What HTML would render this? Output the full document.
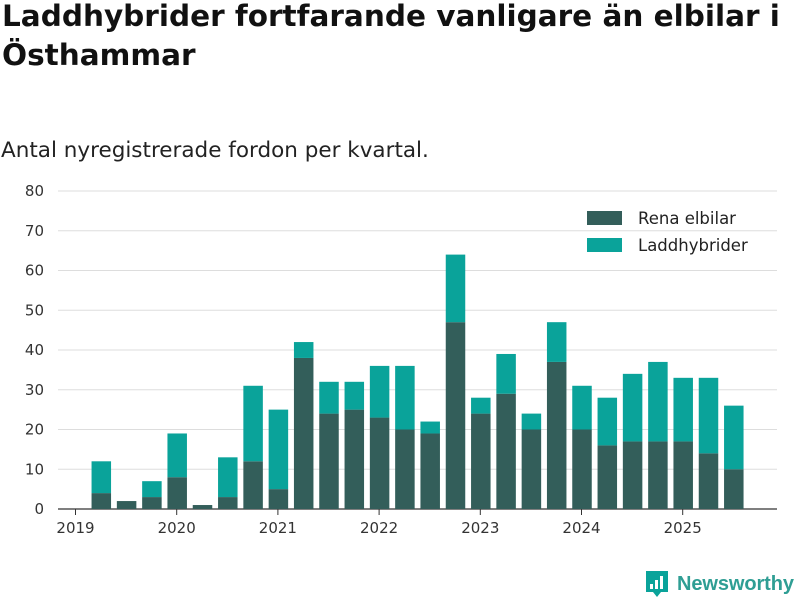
<!DOCTYPE html>
<html><head><meta charset="utf-8"><style>
body{margin:0;width:800px;height:600px;background:#fff;font-family:"Liberation Sans","DejaVu Sans",sans-serif;overflow:hidden;position:relative}
h1{position:absolute;left:2px;top:-3px;margin:0;font-family:"DejaVu Sans",sans-serif;font-size:29.5px;line-height:39px;font-weight:bold;color:#111;letter-spacing:0px}
.sub{position:absolute;left:1px;top:138px;font-family:"DejaVu Sans",sans-serif;font-size:21.5px;color:#222}
</style></head><body>
<h1>Laddhybrider fortfarande vanligare än elbilar i<br>Östhammar</h1>
<div class="sub">Antal nyregistrerade fordon per kvartal.</div>
<svg id="chart" width="800" height="600" style="position:absolute;left:0;top:0"></svg>
<script>
const quarters=["2019Q1","2019Q2","2019Q3","2019Q4","2020Q1","2020Q2","2020Q3","2020Q4","2021Q1","2021Q2","2021Q3","2021Q4","2022Q1","2022Q2","2022Q3","2022Q4","2023Q1","2023Q2","2023Q3","2023Q4","2024Q1","2024Q2","2024Q3","2024Q4","2025Q1","2025Q2","2025Q3"];
const elbil=[0,4,2,3,8,1,3,12,5,38,24,25,23,20,19,47,24,29,20,37,20,16,17,17,17,14,10];
const laddhybrid=[0,8,0,4,11,0,10,19,20,4,8,7,13,16,3,17,4,10,4,10,11,12,17,20,16,19,16];
const yTicks=[0,10,20,30,40,50,60,70,80];
const yearLabels=["2019","2020","2021","2022","2023","2024","2025"];
const NS="http://www.w3.org/2000/svg";
const svg=document.getElementById('chart');
const y=v=>509-v*(318/80);
const x=i=>76+i*25.3;
function mk(t,a){const e=document.createElementNS(NS,t);for(const k in a)e.setAttribute(k,a[k]);svg.appendChild(e);return e;}
yTicks.forEach(v=>{
 const l=mk('line',{x1:58,x2:777,y1:y(v),y2:y(v),stroke:v===0?'#333':'#ddd','stroke-width':v===0?1.2:1});
 
 
 const t=mk('text',{x:44,y:y(v)+5,'text-anchor':'end','font-size':15,fill:'#333','font-family':'DejaVu Sans, sans-serif'});
 t.textContent=v;
 
 
});
yearLabels.forEach((yr,j)=>{
 const xi=x(j*4)-0.5;
 const l=mk('line',{x1:xi,x2:xi,y1:509,y2:515,stroke:'#333'});
 
 
 const t=mk('text',{x:xi,y:533,'text-anchor':'middle','font-size':15,fill:'#333','font-family':'DejaVu Sans, sans-serif'});
 t.textContent=yr;
 
 
});
quarters.forEach((q,i)=>{
 const bw=19.5;
 if(elbil[i]>0){const r=mk('rect',{x:x(i)-bw/2,y:y(elbil[i]),width:bw,height:y(0)-y(elbil[i]),fill:'#335e5a'});
 
 }
 if(laddhybrid[i]>0){const tot=elbil[i]+laddhybrid[i];const r=mk('rect',{x:x(i)-bw/2,y:y(tot),width:bw,height:y(elbil[i])-y(tot),fill:'#0aa39a'});
 
 }
});
[["Rena elbilar","#335e5a",211],["Laddhybrider","#0aa39a",238]].forEach(([n,c,yy])=>{
 const r=mk('rect',{x:587,y:yy,width:35,height:14,fill:c});
 
 
 const t=mk('text',{x:638,y:yy+13,'font-size':16.5,fill:'#222','font-family':'DejaVu Sans, sans-serif'});
 t.textContent=n;
 
 
});
const g=mk('g',{});


g.innerHTML='<path d="M646 571h22v21h-7l-4 5-4-5h-7z" fill="#0aa39a"/><rect x="650" y="584" width="3" height="5" fill="#fff"/><rect x="655" y="580" width="3" height="9" fill="#fff"/><rect x="660" y="576" width="3" height="13" fill="#fff"/><text x="677" y="590" font-size="20" font-weight="bold" fill="#2f9e94" font-family="Liberation Sans, sans-serif" textLength="117">Newsworthy</text>';
</script>
</body></html>
